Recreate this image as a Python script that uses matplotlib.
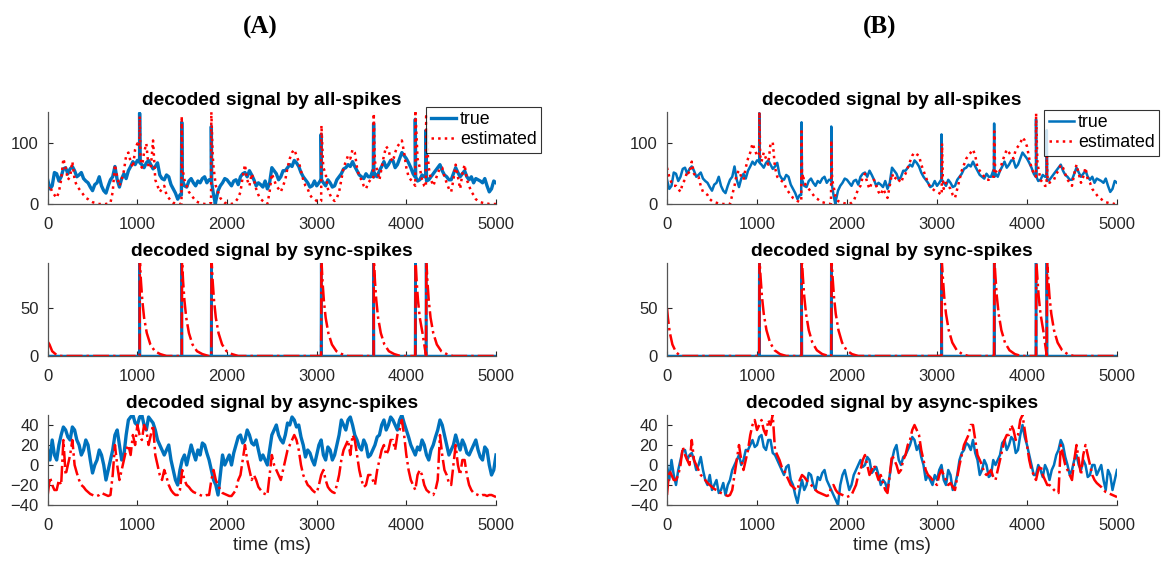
import numpy as np
import matplotlib
matplotlib.use("Agg")
import matplotlib.pyplot as plt

plt.rcParams['font.family'] = ['Liberation Sans', 'DejaVu Sans']

# ---------------- data ----------------
t_grid = list(range(0, 5001, 50))     # main samples
t_mid = list(range(25, 5000, 50))     # in-between samples (wiggles)

# all-spikes: true signal (same in A and B)
allspk_true = [40, 30, 50, 45, 60, 58, 55, 48, 42, 35,
               22, 35, 30, 18, 40, 62, 28, 50, 55, 70,
               72, 65, 68, 65, 62, 48, 40, 45, 25, 8,
               40, 28, 42, 30, 35, 45, 40, 15, 22, 35,
               40, 30, 40, 45, 52, 55, 40, 35, 28, 25,
               60, 50, 45, 55, 65, 72, 62, 45, 35, 30,
               30, 42, 30, 35, 30, 45, 58, 65, 70, 55,
               45, 50, 45, 50, 55, 70, 65, 72, 65, 85,
               75, 60, 45, 40, 45, 40, 50, 60, 55, 45,
               40, 60, 45, 55, 40, 35, 40, 35, 30, 25,
               35]
allspk_true_mid = [25, 52, 38, 58, 50, 62, 45, 52, 38, 28,
                   32, 45, 22, 30, 45, 40, 42, 42, 62, 65,
                   70, 60, 72, 58, 68, 42, 48, 32, 18, 15,
                   30, 38, 35, 38, 42, 35, 38, 5, 30, 42,
                   35, 38, 32, 50, 45, 48, 30, 32, 38, 35,
                   55, 40, 55, 60, 62, 68, 52, 40, 28, 38,
                   35, 35, 40, 28, 40, 50, 60, 62, 62, 48,
                   42, 45, 55, 45, 62, 60, 72, 60, 75, 80,
                   68, 50, 38, 48, 38, 45, 55, 65, 48, 40,
                   50, 52, 50, 45, 45, 42, 38, 42, 20, 38]
allspk_true_xt = [1021, 1025, 1029, 1491, 1495, 1499, 1821, 1825, 1829, 1870,
                  3046, 3050, 3054, 3631, 3635, 3639, 4096, 4100, 4104,
                  4216, 4220, 4224]
allspk_true_xv = [72, 150, 68, 15, 135, 40, 40, 128, 35, 0,
                  40, 115, 40, 45, 133, 45, 45, 140, 45,
                  45, 122, 40]

# all-spikes: estimated, panel A
allspk_est_A = [25, 20, 10, 40, 60, 45, 40, 25, 15, 8,
                3, 1, 0, 0, 2, 65, 30, 55, 85, 60,
                100, 60, 100, 60, 40, 20, 30, 10, 2, 0,
                60, 30, 15, 5, 2, 0, 0, 60, 20, 5,
                1, 0, 5, 20, 65, 30, 40, 15, 5, 0,
                50, 30, 20, 40, 75, 90, 70, 40, 25, 10,
                5, 5, 50, 15, 5, 20, 60, 80, 90, 60,
                40, 25, 40, 70, 40, 80, 90, 70, 95, 105,
                60, 40, 30, 60, 30, 60, 30, 50, 60, 35,
                20, 65, 25, 65, 30, 15, 5, 2, 1, 0,
                0]
allspk_est_A_mid = [30, 15, 20, 75, 40, 70, 30, 20, 10, 5,
                    2, 0, 0, 1, 20, 45, 40, 80, 70, 90,
                    120, 85, 60, 105, 30, 25, 15, 5, 1, 0,
                    40, 20, 10, 3, 1, 0, 152, 30, 10, 2,
                    0, 2, 10, 45, 40, 50, 25, 8, 2, 20,
                    40, 25, 30, 60, 85, 80, 55, 30, 15, 8,
                    3, 60, 25, 8, 10, 40, 70, 75, 85, 45,
                    30, 35, 40, 55, 60, 95, 75, 85, 100, 85,
                    45, 35, 75, 40, 140, 40, 40, 60, 45, 25,
                    40, 45, 50, 40, 20, 8, 3, 1, 0, 0]
allspk_est_A_xt = [1022, 1026, 1034, 1492, 1495, 1520, 1822, 1825, 1840, 3053,
                   3070, 3632, 3636, 3645, 4101, 4120, 4218, 4221, 4235]
allspk_est_A_xv = [95, 145, 80, 1, 145, 45, 2, 152, 80, 130,
                   70, 45, 155, 90, 155, 90, 28, 155, 90]

# all-spikes: estimated, panel B
allspk_est_B = [60, 35, 30, 20, 40, 50, 50, 45, 20, 15,
                5, 2, 1, 0, 0, 30, 55, 40, 75, 100,
                80, 70, 75, 100, 60, 40, 35, 20, 10, 5,
                40, 30, 20, 10, 5, 2, 0, 30, 5, 2,
                0, 2, 15, 30, 50, 25, 40, 20, 25, 10,
                50, 45, 35, 50, 70, 85, 80, 55, 35, 25,
                20, 15, 35, 25, 10, 40, 65, 80, 90, 60,
                50, 40, 45, 55, 55, 80, 85, 75, 95, 110,
                95, 60, 45, 40, 30, 35, 40, 55, 60, 40,
                30, 65, 35, 60, 35, 20, 10, 5, 2, 1,
                0]
allspk_est_B_mid = [45, 30, 25, 35, 55, 70, 45, 30, 18, 8,
                    3, 1, 0, 0, 15, 50, 45, 60, 85, 90,
                    100, 85, 65, 102, 45, 38, 25, 15, 8, 3,
                    35, 25, 15, 8, 3, 1, 60, 10, 3, 1,
                    0, 5, 25, 45, 35, 35, 30, 15, 18, 30,
                    40, 40, 45, 60, 80, 82, 65, 45, 28, 22,
                    18, 25, 30, 15, 25, 55, 75, 85, 80, 55,
                    45, 40, 45, 50, 70, 90, 80, 90, 100, 105,
                    75, 50, 60, 35, 50, 38, 50, 65, 50, 35,
                    50, 50, 45, 40, 25, 15, 8, 3, 1, 0]
allspk_est_B_xt = [1022, 1027, 1035, 1492, 1495, 1510, 1822, 1825, 1835, 3052,
                   3056, 3065, 3632, 3636, 3645, 4097, 4101, 4115, 4217, 4221, 4230]
allspk_est_B_xv = [80, 152, 80, 5, 120, 50, 1, 105, 40, 15,
                   100, 40, 45, 120, 60, 50, 150, 70, 30, 80, 40]

# sync-spikes
sync_times = [1025, 1495, 1825, 3050, 3635, 4100, 4220]
sync_true_heights = [100, 100, 100, 100, 100, 100, 100]
sync_decay_dt = [0, 3, 15, 30, 50, 80, 120, 170, 230, 300]
sync_decay_A = [0, 100, 78, 58, 40, 24, 12, 5, 2, 0]
sync_decay_B = [0, 100, 82, 62, 44, 27, 14, 6, 2, 0]
sync_init_t_A = [0, 20, 50, 100, 150]
sync_init_v_A = [15, 12, 5, 1, 0]
sync_init_t_B = [0, 10, 30, 60, 100, 150]
sync_init_v_B = [50, 40, 25, 12, 4, 0]

# async-spikes: panel A
async_true_A = [15, 25, 5, 30, 35, 25, 35, 20, 15, 20,
                -8, 5, 10, -15, 5, 30, 20, 10, 45, 50,
                40, 50, 35, 45, 35, 20, 10, 20, -5, -20,
                5, 0, 20, 5, 10, 20, 5, -15, -30, 10,
                5, 0, 20, 30, 25, 30, 20, 15, 10, 0,
                30, 40, 25, 30, 40, 45, 40, 20, 15, 5,
                10, 25, 5, 15, 10, 30, 40, 45, 40, 25,
                15, 20, 10, 20, 30, 45, 40, 45, 35, 50,
                35, 20, 10, 15, 20, 5, 20, 35, 40, 20,
                15, 30, 15, 20, 10, 20, 15, 5, 15, -10,
                10]
async_true_A_mid = [5, 10, 20, 38, 28, 38, 25, 10, 25, 5,
                    0, 15, 0, -5, 15, 35, 5, 30, 48, 42,
                    48, 40, 48, 42, 25, 15, 15, 5, -15, -5,
                    10, 10, 12, 15, 22, 12, -5, -20, -10, 0,
                    10, 12, 28, 22, 35, 22, 25, 5, 5, 15,
                    35, 30, 22, 42, 48, 38, 28, 8, 12, 0,
                    20, 10, 18, 5, 20, 45, 35, 48, 30, 18,
                    25, 8, 15, 28, 40, 35, 48, 40, 45, 42,
                    28, 15, 18, 25, 10, 15, 28, 45, 30, 10,
                    20, 22, 25, 12, 15, 25, 8, 18, 0, -5]
async_est_A = [-30, -20, -25, -20, -10, 10, 0, -15, -22, -27,
               -30, -31, -28, -30, -30, 20, -15, 5, 20, 30,
               40, 25, 35, 30, 10, -10, -5, -20, -28, -30,
               -5, -20, -25, -28, -30, -31, -30, -5, -20, -28,
               -30, -31, -25, -10, 20, -5, -10, -22, -28, -30,
               10, -5, -15, 5, 20, 30, 15, -10, -20, -25,
               -28, -10, -15, -25, -28, -10, 15, 25, 30, 10,
               -15, -20, -10, -20, 5, 20, 15, 25, 30, 45,
               10, -15, -25, -5, -20, -27, -30, -15, 10, -10,
               -20, 20, -10, 5, -20, -28, -30, -30, -31, -30,
               -32]
async_est_A_mid = [-12, -25, -15, 25, 0, 25, -8, -20, -25, -29,
                   -31, -30, -29, -31, -10, 0, -5, 15, 10, 20,
                   30, 40, 20, 40, 0, -15, -12, -25, -30, -25,
                   -15, -22, -27, -29, -31, -30, -15, -15, -25, -29,
                   -31, -28, -15, 5, 5, -15, -15, -25, -29, -10,
                   0, -10, -5, 15, 25, 25, 0, -15, -22, -27,
                   -20, -5, -22, -27, -20, 5, 20, 10, 25, -5,
                   -22, -10, -15, -5, 15, 10, 25, 15, 35, 30,
                   -5, -20, -10, -10, -25, -29, -25, 30, -5, -18,
                   0, 0, 5, -10, -25, -29, -31, -30, -30, -31]

# async-spikes: panel B
async_true_B = [0, 5, -20, 5, 15, 10, 5, 0, -5, -20,
                -25, -15, -25, -30, -15, 0, 10, 5, 15, 25,
                20, 30, 15, 25, 10, 0, -10, 0, -20, -38,
                -15, -20, -10, -25, -15, -5, -20, -30, -40, -10,
                -15, -20, -5, 5, 0, 5, -5, -10, -15, -25,
                5, 20, 0, 10, 20, 25, 20, 0, -10, -20,
                -15, 0, -20, -10, -20, 5, 15, 20, 25, 5,
                -5, 0, -10, 0, 10, 25, 20, 25, 15, 40,
                20, 0, -10, -5, 0, -15, 0, 15, 20, 0,
                -5, 10, -5, 0, -10, 0, -5, -15, -5, -25,
                -5]
async_true_B_mid = [-15, -10, -5, 15, 5, 12, -5, 8, -15, -10,
                    -20, -28, -18, -20, -5, 5, 0, 15, 20, 18,
                    28, 18, 25, 12, 5, -5, -2, -15, -30, -25,
                    -25, -8, -20, -12, -8, -15, -25, -35, -20, -5,
                    -25, -10, 0, -2, 8, -8, -2, -20, -18, -10,
                    15, 5, 8, 15, 28, 15, 8, -15, -15, -10,
                    -5, -15, -5, -25, -10, 12, 22, 15, 12, -10,
                    5, -12, 5, 5, 22, 15, 28, 12, 30, 28,
                    10, -10, 0, -12, -5, -5, 10, 25, 8, -10,
                    5, 0, 5, -12, 0, -10, 0, -25, -10, -15]
async_est_B = [-30, -10, -15, 0, 10, 0, 5, -5, -12, -18,
               -22, -25, -28, -30, -30, -10, 20, -5, 15, 40,
               35, 45, 30, 40, 15, 5, -5, -15, -22, -25,
               -10, -15, -20, -25, -28, -30, -30, -20, -28, -30,
               -32, -30, -20, -5, 10, -10, 0, -15, -18, -28,
               10, 0, -5, 10, 25, 40, 30, 5, -10, -15,
               -20, -5, -15, -18, -25, 0, 20, 30, 40, 10,
               0, -10, -5, -15, 5, 25, 30, 35, 30, 50,
               20, -5, -15, 0, -15, -20, -25, -28, 10, -5,
               -15, 20, -10, 20, 0, -15, -20, -25, -28, -30,
               -32]
async_est_B_mid = [-5, -15, -10, 18, 5, 25, 0, -10, -15, -20,
                   -24, -27, -29, -31, -25, 5, 5, 5, 30, 45,
                   40, 35, 45, 50, 10, -2, -10, -20, -24, -15,
                   -12, -18, -22, -27, -29, -31, -22, -25, -29, -31,
                   -31, -25, -10, 5, 0, -5, -8, -10, -25, -10,
                   5, -8, 5, 20, 35, 35, 15, -5, -12, -18,
                   -10, -10, -20, -22, -12, 10, 25, 40, 25, 5,
                   -8, -8, -12, -5, 15, 30, 40, 25, 45, 35,
                   5, -10, -5, -10, -20, -22, -27, 20, 0, -10,
                   5, 5, 10, 10, -10, -18, -22, -27, -29, -31]

titles = ["decoded signal by all-spikes", "decoded signal by sync-spikes",
          "decoded signal by async-spikes"]
panel_labels = ["(A)", "(B)"]
legend_labels = ["true", "estimated"]
xticks = [0, 1000, 2000, 3000, 4000, 5000]
ylims = [(0, 152), (0, 97), (-40, 50)]
yticks = [[0, 100], [0, 50], [-40, -20, 0, 20, 40]]


# ---------------- helpers ----------------
def merge(vb, vm, te=(), ve=()):
    t = np.concatenate([np.asarray(t_grid, float), np.asarray(t_mid, float),
                        np.asarray(te, float)])
    v = np.concatenate([np.asarray(vb, float), np.asarray(vm, float),
                        np.asarray(ve, float)])
    o = np.argsort(t, kind="stable")
    return t[o], v[o]


def sync_true_curve():
    t, v = [0], [0]
    for t0, h in zip(sync_times, sync_true_heights):
        t += [t0 - 3, t0, t0 + 5]
        v += [0, h, 0]
    t.append(5000)
    v.append(0)
    return t, v


def sync_est_curve(init_t, init_v, decay):
    t, v = list(init_t), list(init_v)
    for i, t0 in enumerate(sync_times):
        nxt = sync_times[i + 1] if i + 1 < len(sync_times) else 5001
        for dt, d in zip(sync_decay_dt, decay):
            if t0 + dt < nxt - 3:
                t.append(t0 + dt)
                v.append(d)
    t.append(5000)
    v.append(0)
    return t, v


BLUE = "#0072BD"
RED = "#FF0000"
GRAY = "#262626"

W, H = 1161, 561
fig = plt.figure(figsize=(W / 100, H / 100), dpi=100)

col_x = [(47.7, 496), (667, 1117)]
row_y = [(112, 204), (263, 356), (415, 505)]

data = {
    0: [merge(allspk_true, allspk_true_mid, allspk_true_xt, allspk_true_xv),
        merge(allspk_est_A, allspk_est_A_mid, allspk_est_A_xt, allspk_est_A_xv),
        sync_true_curve(),
        sync_est_curve(sync_init_t_A, sync_init_v_A, sync_decay_A),
        merge(async_true_A, async_true_A_mid),
        merge(async_est_A, async_est_A_mid)],
    1: [merge(allspk_true, allspk_true_mid, allspk_true_xt, allspk_true_xv),
        merge(allspk_est_B, allspk_est_B_mid, allspk_est_B_xt, allspk_est_B_xv),
        sync_true_curve(),
        sync_est_curve(sync_init_t_B, sync_init_v_B, sync_decay_B),
        merge(async_true_B, async_true_B_mid),
        merge(async_est_B, async_est_B_mid)],
}
blue_lw = [2.4, 1.8]
red_styles = [":", "-.", "-."]
legend_pos = [(0.844, 1.054), (0.838, 1.022)]

for c in range(2):
    x0, x1 = col_x[c]
    for r in range(3):
        y0, y1 = row_y[r]
        ax = fig.add_axes([x0 / W, 1 - y1 / H, (x1 - x0) / W, (y1 - y0) / H])
        tt, vt = data[c][2 * r]
        te, ve = data[c][2 * r + 1]
        lw_b = blue_lw[c] if r != 1 else 1.8
        ax.plot(tt, vt, color=BLUE, lw=lw_b, label=legend_labels[0])
        ax.plot(te, ve, color=RED, lw=1.8, ls=red_styles[r], label=legend_labels[1])
        ax.set_xlim(0, 5000)
        ax.set_ylim(*ylims[r])
        ax.set_xticks(xticks)
        ax.set_yticks(yticks[r])
        ax.tick_params(direction="in", length=3.5, width=0.8, labelsize=12,
                       colors=GRAY)
        ax.tick_params(axis="x", pad=9.5)
        ax.tick_params(axis="y", pad=6.5)
        for s in ["top", "right"]:
            ax.spines[s].set_visible(False)
        for s in ["left", "bottom"]:
            ax.spines[s].set_color("#555555")
            ax.spines[s].set_linewidth(0.9)
        ax.set_title(titles[r], fontsize=13.8, fontweight="bold", pad=5, color="black")
        if r == 2:
            ax.set_xlabel("time (ms)", fontsize=13.5, color=GRAY, labelpad=3)
        if r == 0:
            leg = ax.legend(loc="upper left", bbox_to_anchor=legend_pos[c],
                            borderaxespad=0, fontsize=12.8, frameon=True,
                            fancybox=False, edgecolor="black", handlelength=1.45,
                            handletextpad=0.2, borderpad=0.25, labelspacing=0.15)
            leg.get_frame().set_linewidth(0.8)
            leg.set_zorder(5)
    fig.text(((x0 + x1) / 2 - 12) / W, 1 - 27 / H, panel_labels[c],
             family=["Liberation Serif", "DejaVu Serif"], fontweight="bold",
             fontsize=18, ha="center", va="center")

fig.savefig("out.png", dpi=100)
